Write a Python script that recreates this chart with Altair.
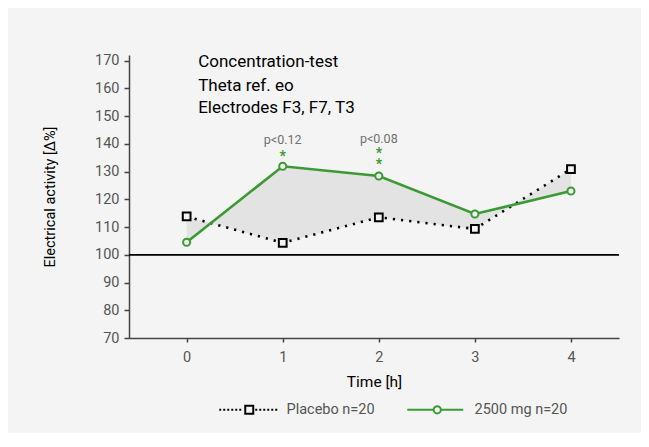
import altair as alt
import pandas as pd

# ---- data ----
times = [0, 1, 2, 3, 4]
placebo = [113.8, 104.3, 113.5, 109.3, 130.9]
dose = [104.5, 131.9, 128.4, 114.7, 123.0]
series_names = ["Placebo n=20", "2500 mg n=20"]

title_lines = ["Concentration-test", "Theta ref. eo", "Electrodes F3, F7, T3"]
title_x = [0.12, 0.12, 0.12]
title_y = [169.6, 161.0, 153.0]

p_labels = ["p<0.12", "p<0.08"]
p_times = [1, 2]
p_y = [141.3, 141.8]

star_times = [1, 2]
star_text = ["*", "*\n*"]
star_y = [136.3, 137.4]

y_ticks = [70, 80, 90, 100, 110, 120, 130, 140, 150, 160, 170]
x_ticks = [0, 1, 2, 3, 4]

GREEN = "#3a9a33"
BG = "#f4f4f4"
FONT = "Roboto"

df = pd.DataFrame({"time": times, "placebo": placebo, "dose": dose})
titles_df = pd.DataFrame({"text": title_lines, "x": title_x, "y": title_y})
p_df = pd.DataFrame({"text": p_labels, "x": p_times, "y": p_y})
star_df = pd.DataFrame({"x": star_times, "y": star_y, "text": star_text})
legend_df = pd.DataFrame({"series": series_names})

xscale = alt.Scale(domain=[-0.6, 4.5], nice=False, zero=False)
yscale = alt.Scale(domain=[70, 172], nice=False, zero=False)

xaxis = alt.Axis(values=x_ticks, title="Time [h]", grid=False, tickSize=4, tickCount=10,
                 labelPadding=8, titlePadding=11, format="d", labelOverlap=False,
                 titleFontSize=15.5)
yaxis = alt.Axis(values=y_ticks, title="Electrical activity [Δ%]", grid=False, tickCount=20,
                 tickSize=5, labelPadding=5, titlePadding=37, labelOverlap=False,
                 titleFontSize=14.5)

base = alt.Chart(df)

area = base.mark_area(color="#e3e3e3").encode(
    x=alt.X("time:Q", scale=xscale, axis=xaxis),
    y=alt.Y("placebo:Q", scale=yscale, axis=yaxis),
    y2="dose:Q",
)

ref100 = base.mark_rule(color="black", strokeWidth=1).encode(y=alt.datum(100))

line_p = base.mark_line(color="black", strokeWidth=2.6, strokeDash=[2.2, 6]).encode(
    x="time:Q", y="placebo:Q")
line_d = base.mark_line(color=GREEN, strokeWidth=2.6).encode(x="time:Q", y="dose:Q")

pts_p = base.mark_square(size=60, fill=BG, stroke="black", strokeWidth=2, opacity=1).encode(
    x="time:Q", y="placebo:Q")
pts_d = base.mark_circle(size=50, fill=BG, stroke=GREEN, strokeWidth=2, opacity=1).encode(
    x="time:Q", y="dose:Q")

titles = alt.Chart(titles_df).mark_text(align="left", baseline="middle", fontSize=17,
                                        font=FONT, color="black").encode(
    x="x:Q", y="y:Q", text="text:N")

ptext = alt.Chart(p_df).mark_text(align="center", baseline="middle", fontSize=12.5,
                                  font=FONT, color="#707070").encode(
    x="x:Q", y="y:Q", text="text:N")

stars = alt.Chart(star_df).mark_text(align="center", baseline="middle", lineBreak="\n",
                                     lineHeight=11, fontSize=14, dy=3, font=FONT,
                                     color=GREEN, fontWeight="bold").encode(
    x="x:Q", y="y:Q", text="text:N")

# custom legend symbols: dotted line + square, solid line + circle
dots_left = "".join(f"M{-1 + i},0h0.5" for i in range(6))
dots_right = "".join(f"M{8 + i},0h0.5" for i in range(6))
path_sq = dots_left + "M5.5,-1H7.5V1H5.5Z" + dots_right
path_ci = "M-1,0H5.6M7.4,0H13M5.6,0A0.9,0.9 0 1,0 7.4,0A0.9,0.9 0 1,0 5.6,0"

legend_layer = alt.Chart(legend_df).mark_point(filled=False, strokeWidth=2, opacity=1).encode(
    shape=alt.Shape("series:N", scale=alt.Scale(domain=series_names, range=[path_sq, path_ci]),
                    legend=alt.Legend(title=None, orient="none", direction="horizontal",
                                      legendX=87, legendY=347, symbolSize=64,
                                      symbolStrokeWidth=2, labelOffset=56,
                                      columnPadding=28, labelFontSize=14.5,
                                      labelFont=FONT, labelColor="#555555",
                                      symbolFillColor="transparent")),
    stroke=alt.Stroke("series:N", scale=alt.Scale(domain=series_names, range=["black", GREEN]),
                      legend=alt.Legend(title=None, orient="none", direction="horizontal",
                                        legendX=87, legendY=347)),
).transform_filter("false")

chart = alt.layer(area, ref100, line_p, line_d, pts_p, pts_d, titles, ptext, stars,
                  legend_layer).properties(
    width=490, height=283,
    background=BG,
    padding={"left": 121, "top": 47, "right": 22, "bottom": 95},
    autosize=alt.AutoSizeParams(type="none"),
).configure_view(stroke=None).configure_axis(
    domainColor="#444444", domainWidth=1.5, tickColor="#444444", tickWidth=1.5,
    labelColor="#555555", labelFontSize=14.5, labelFont=FONT,
    titleColor="black", titleFontWeight="normal", titleFont=FONT,
)

chart.save("out.html", embed_options={"renderer": "svg", "actions": False})
